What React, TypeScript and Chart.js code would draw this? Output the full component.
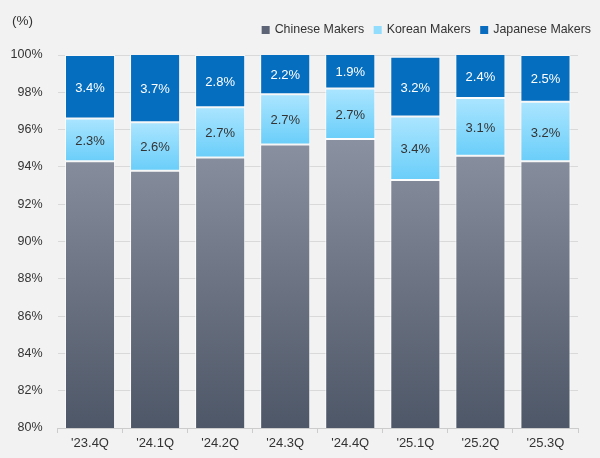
import { useEffect, useRef } from 'react';
import { Chart, registerables } from 'chart.js';

Chart.register(...registerables);

const categories = ["'23.4Q", "'24.1Q", "'24.2Q", "'24.3Q", "'24.4Q", "'25.1Q", "'25.2Q", "'25.3Q"];
const chineseShare = [94.3, 93.8, 94.5, 95.2, 95.5, 93.3, 94.6, 94.3];
const koreanShare = [2.3, 2.6, 2.7, 2.7, 2.7, 3.4, 3.1, 3.2];
const japaneseShare = [3.4, 3.7, 2.8, 2.2, 1.9, 3.2, 2.4, 2.5];
const seriesNames = ['Chinese Makers', 'Korean Makers', 'Japanese Makers'];
const unitLabel = '(%)';

const FONT = "'Liberation Sans', Arial, sans-serif";
const TEXT = '#333333';
const legendColors = ['#5c6475', '#92dcfd', '#0a6cbf'];

export default function App() {
  const ref = useRef<HTMLCanvasElement | null>(null);

  useEffect(() => {
    document.body.style.margin = '0';
    document.body.style.background = '#f2f2f2';
    const canvas = ref.current;
    if (!canvas) return;

    const bgPlugin = {
      id: 'bg',
      beforeDraw(chart: any) {
        const c = chart.ctx;
        c.save();
        c.fillStyle = '#f2f2f2';
        c.fillRect(0, 0, chart.width, chart.height);
        c.restore();
      },
    };

    const labelPlugin = {
      id: 'valueLabels',
      afterDatasetsDraw(chart: any) {
        const c = chart.ctx;
        c.save();
        c.font = `13px ${FONT}`;
        c.textAlign = 'center';
        c.textBaseline = 'middle';
        chart.data.datasets.forEach((ds: any, di: number) => {
          const meta = chart.getDatasetMeta(di);
          meta.data.forEach((el: any, i: number) => {
            const p = el.getProps(['x', 'y', 'base'], true);
            const v = ds.data[i] as number;
            c.fillStyle = di === 1 ? TEXT : '#ffffff';
            c.fillText(`${v.toFixed(1)}%`, p.x, (p.y + p.base) / 2 + 1.5);
          });
        });
        c.restore();
      },
    };

    const legendPlugin = {
      id: 'customLegend',
      afterDraw(chart: any) {
        const c = chart.ctx;
        c.save();
        c.font = `12.4px ${FONT}`;
        c.textBaseline = 'middle';
        c.textAlign = 'left';
        const box = 8;
        const gapText = 5;
        const gapItem = 9.5;
        const widths = seriesNames.map((n) => c.measureText(n).width);
        const total = widths.reduce((a, w) => a + box + gapText + w, 0) + gapItem * (seriesNames.length - 1);
        let x = 591 - total;
        const yc = 30;
        seriesNames.forEach((n, i) => {
          c.fillStyle = legendColors[i];
          c.fillRect(x, yc - box / 2, box, box);
          x += box + gapText;
          c.fillStyle = TEXT;
          c.fillText(n, x, yc);
          x += widths[i] + gapItem;
        });
        c.font = `13.5px ${FONT}`;
        c.fillStyle = TEXT;
        c.fillText(unitLabel, 12, 21);
        c.restore();
      },
    };

    const chineseBg = (ctx: any) => {
      const chart = ctx.chart;
      const y = chart.scales?.y;
      if (!chart.chartArea || !y) return '#6b7383';
      const g = chart.ctx.createLinearGradient(0, y.getPixelForValue(95.5), 0, y.getPixelForValue(80));
      g.addColorStop(0, '#8a91a0');
      g.addColorStop(1, '#4e5767');
      return g;
    };

    const koreanBg = (ctx: any) => {
      const chart = ctx.chart;
      const y = chart.scales?.y;
      if (!chart.chartArea || !y || ctx.dataIndex === undefined) return '#8fdcfd';
      const i = ctx.dataIndex;
      const start = chineseShare[i];
      const end = start + koreanShare[i];
      const g = chart.ctx.createLinearGradient(0, y.getPixelForValue(end), 0, y.getPixelForValue(start));
      g.addColorStop(0, '#abe5ff');
      g.addColorStop(1, '#6acef9');
      return g;
    };

    const common = {
      borderWidth: 1,
      borderColor: 'rgba(255,255,255,0.75)',
      borderSkipped: false,
      barPercentage: 0.77,
      categoryPercentage: 1,
    };

    const chart = new Chart(canvas, {
      type: 'bar',
      data: {
        labels: categories,
        datasets: [
          { label: seriesNames[0], data: chineseShare, backgroundColor: chineseBg, ...common },
          { label: seriesNames[1], data: koreanShare, backgroundColor: koreanBg, ...common },
          { label: seriesNames[2], data: japaneseShare, backgroundColor: '#066ebf', ...common },
        ],
      } as any,
      options: {
        responsive: false,
        animation: false,
        layout: { padding: { top: 55, right: 22, left: 0, bottom: 0 } },
        plugins: {
          legend: { display: false },
          tooltip: { enabled: false },
        },
        scales: {
          x: {
            stacked: true,
            grid: { drawOnChartArea: false, offset: true, tickLength: 5, color: '#cccccc' },
            border: { display: true, color: '#cccccc' },
            ticks: { color: TEXT, font: { family: FONT, size: 13 }, padding: 3 },
            afterFit: (s: any) => {
              s.height = 30;
            },
          },
          y: {
            stacked: true,
            min: 80,
            max: 100,
            ticks: {
              stepSize: 2,
              color: TEXT,
              font: { family: FONT, size: 12.5 },
              padding: 15,
              callback: (v: any) => `${v}%`,
            },
            grid: { color: '#d9d9d9', drawTicks: false },
            border: { display: false },
            afterFit: (s: any) => {
              s.width = 57.5;
            },
          },
        },
      } as any,
      plugins: [bgPlugin, labelPlugin, legendPlugin],
    });

    return () => chart.destroy();
  }, []);

  return (
    <div style={{ width: 600, height: 458 }}>
      <canvas ref={ref} width={600} height={458} style={{ display: 'block' }} />
    </div>
  );
}
